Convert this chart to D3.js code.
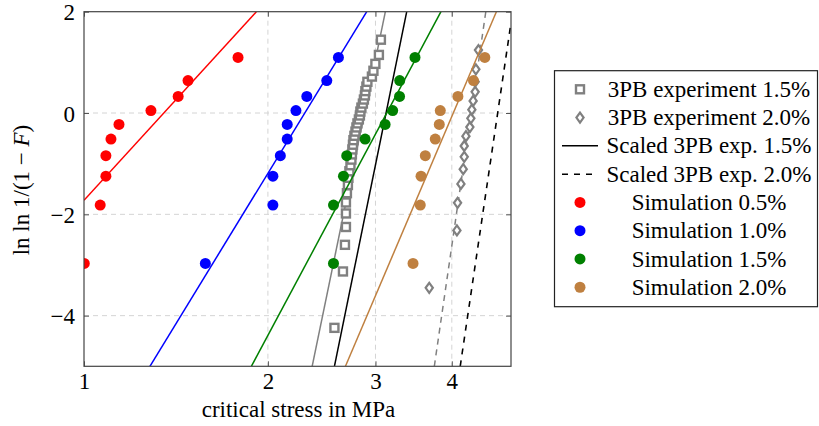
<!DOCTYPE html>
<html>
<head>
<meta charset="utf-8">
<script src="https://cdn.jsdelivr.net/npm/d3@7"></script>
<style>
  body { margin: 0; background: #fff; }
  text { font-family: "Liberation Serif", "DejaVu Serif", serif; fill: #000; }
</style>
</head>
<body>
<svg id="chart" width="819" height="426"></svg>
<script>
// ---------- data ----------
const xTicks = [1, 2, 3, 4];
const yTicks = [-4, -2, 0, 2];

// Weibull plot positions of the 10 simulation samples
const simY = [-2.970, -1.817, -1.246, -0.842, -0.514, -0.225, 0.049, 0.327, 0.640, 1.097];
const sim05X = [1.001, 1.063, 1.086, 1.086, 1.107, 1.141, 1.287, 1.426, 1.480, 1.787];
const sim10X = [1.580, 2.038, 2.038, 2.096, 2.151, 2.151, 2.223, 2.316, 2.497, 2.609];
const sim15X = [2.561, 2.561, 2.659, 2.692, 2.885, 3.111, 3.201, 3.285, 3.287, 3.482];
const sim20X = [3.456, 3.552, 3.562, 3.620, 3.758, 3.816, 3.830, 4.093, 4.341, 4.530];

// 3PB experiment 1.5% (35 samples)
const exp15Y = [-4.241, -3.128, -2.602, -2.250, -1.983, -1.766, -1.583, -1.422, -1.279, -1.150,
  -1.031, -0.920, -0.817, -0.719, -0.626, -0.536, -0.450, -0.367, -0.285, -0.205,
  -0.127, -0.049, 0.029, 0.107, 0.186, 0.266, 0.347, 0.432, 0.521, 0.616,
  0.719, 0.834, 0.970, 1.147, 1.447];
const exp15X = [2.570, 2.654, 2.674, 2.684, 2.684, 2.684, 2.694, 2.704, 2.709, 2.719,
  2.730, 2.740, 2.745, 2.750, 2.756, 2.761, 2.771, 2.782, 2.792, 2.803,
  2.818, 2.829, 2.834, 2.845, 2.861, 2.872, 2.883, 2.888, 2.899, 2.910,
  2.960, 2.977, 2.999, 3.039, 3.062];

// 3PB experiment 2.0% (16 samples)
const exp20Y = [-3.450, -2.318, -1.773, -1.399, -1.108, -0.865, -0.651, -0.458, -0.278, -0.105,
  0.066, 0.238, 0.419, 0.619, 0.862, 1.243];
const exp20X = [3.674, 4.078, 4.088, 4.140, 4.176, 4.192, 4.192, 4.219, 4.282, 4.298,
  4.314, 4.335, 4.368, 4.368, 4.380, 4.423];

// fitted lines: [x, y] end points
const fit05 = [[1.000, -1.723], [1.915, 2]];
const fit10 = [[1.282, -5], [2.903, 2]];
const fit15 = [[1.879, -5], [3.840, 2]];
const fit20 = [[2.679, -5], [4.732, 2]];
const expFit15 = [[2.363, -5], [3.114, 2]];
const expFit20 = [[3.745, -5], [4.547, 2]];
const scaled15 = [[2.570, -5], [3.375, 2]];
const scaled20 = [[4.129, -5], [5.000, 1.78]];

const legendLabels = ["3PB experiment 1.5%", "3PB experiment 2.0%", "Scaled 3PB exp. 1.5%",
  "Scaled 3PB exp. 2.0%", "Simulation 0.5%", "Simulation 1.0%", "Simulation 1.5%", "Simulation 2.0%"];

// ---------- drawing ----------
const svg = d3.select("#chart");
const L = 84, R = 511, T = 11.7, B = 366.3;
const x = d3.scaleLog().domain([1, 5]).range([L, R]);
const y = d3.scaleLinear().domain([-5, 2]).range([B, T]);
const FS = 23;
const gray = "#808080", brown = "#bf8040";

svg.append("defs").append("clipPath").attr("id", "clip")
  .append("rect").attr("x", L).attr("y", T).attr("width", R - L).attr("height", B - T);

// grid
const grid = svg.append("g");
grid.selectAll(".gx").data(xTicks.filter(d => d > 1)).join("line")
  .attr("x1", d => x(d)).attr("x2", d => x(d)).attr("y1", T).attr("y2", B)
  .attr("stroke", "#d4d4d4").attr("stroke-width", 1).attr("stroke-dasharray", "5,4");
grid.selectAll(".gy").data(yTicks.filter(d => d < 2)).join("line")
  .attr("y1", d => y(d)).attr("y2", d => y(d)).attr("x1", L).attr("x2", R)
  .attr("stroke", "#d4d4d4").attr("stroke-width", 1).attr("stroke-dasharray", "5,4");

// axes via d3 axis generators (ticks inside)
const fmt = d => (d < 0 ? "\u2212" + Math.abs(d) : String(d));
const xAxis = svg.append("g").attr("transform", `translate(0,${B})`)
  .call(d3.axisBottom(x).tickValues(xTicks).tickFormat(fmt).tickSizeInner(-5).tickSizeOuter(0).tickPadding(22));
const yAxis = svg.append("g").attr("transform", `translate(${L},0)`)
  .call(d3.axisLeft(y).tickValues(yTicks).tickFormat(fmt).tickSizeInner(-5).tickSizeOuter(0).tickPadding(14));
svg.append("g").attr("transform", `translate(0,${T})`)
  .call(d3.axisTop(x).tickValues(xTicks).tickFormat("").tickSizeInner(-5).tickSizeOuter(0));
svg.append("g").attr("transform", `translate(${R},0)`)
  .call(d3.axisRight(y).tickValues(yTicks).tickFormat("").tickSizeInner(-5).tickSizeOuter(0));
svg.selectAll(".domain").remove();
svg.selectAll(".tick line").attr("stroke", "#555").attr("stroke-width", 1);
svg.selectAll(".tick text").attr("font-family", "Liberation Serif").attr("font-size", FS).attr("fill", "#000");
xAxis.selectAll(".tick text").attr("dy", 0).attr("y", 389 - B);
yAxis.selectAll(".tick text").attr("dy", 0).attr("y", 8).attr("x", -9);

// plot content
const plot = svg.append("g").attr("clip-path", "url(#clip)");
const line = d3.line().x(d => x(d[0])).y(d => y(d[1]));
function drawLine(data, color, dash, w) {
  plot.append("path").datum(data).attr("d", line).attr("fill", "none")
    .attr("stroke", color).attr("stroke-width", w || 1.5)
    .attr("stroke-dasharray", dash || null);
}

// experiment fits
drawLine(expFit15, gray, null, 1.5);
drawLine(expFit20, gray, "6,5", 1.5);

// squares
const sq = 8;
plot.selectAll(".sq").data(exp15X.map((v, i) => [v, exp15Y[i]])).join("rect")
  .attr("x", d => x(d[0]) - sq / 2).attr("y", d => y(d[1]) - sq / 2)
  .attr("width", sq).attr("height", sq)
  .attr("fill", "#fff").attr("stroke", gray).attr("stroke-width", 2.4);

// diamonds
const diamond = (cx, cy) => `M${cx},${cy - 5}L${cx + 3.6},${cy}L${cx},${cy + 5}L${cx - 3.6},${cy}Z`;
plot.selectAll(".dm").data(exp20X.map((v, i) => [v, exp20Y[i]])).join("path")
  .attr("d", d => diamond(x(d[0]), y(d[1])))
  .attr("fill", "#fff").attr("stroke", gray).attr("stroke-width", 2.2);

// scaled
drawLine(scaled15, "#000", null, 1.5);
drawLine(scaled20, "#000", "6,6", 1.6);

// simulations
const sims = [[sim05X, fit05, "#ff0000"], [sim10X, fit10, "#0000ff"], [sim15X, fit15, "#008000"], [sim20X, fit20, brown]];
sims.forEach(([xs, fit, c]) => {
  drawLine(fit, c, null, 1.5);
  plot.append("g").selectAll("circle").data(xs.map((v, i) => [v, simY[i]])).join("circle")
    .attr("cx", d => x(d[0])).attr("cy", d => y(d[1])).attr("r", 5.5).attr("fill", c);
});

// frame
svg.append("rect").attr("x", L).attr("y", T).attr("width", R - L).attr("height", B - T)
  .attr("fill", "none").attr("stroke", "#444").attr("stroke-width", 1.2);

// axis labels
svg.append("text").attr("x", (L + R) / 2 + 1).attr("y", 417).attr("text-anchor", "middle")
  .attr("font-size", FS).text("critical stress in MPa");
const yl = svg.append("text").attr("transform", "translate(29,190) rotate(-90)")
  .attr("text-anchor", "middle").attr("font-size", FS);
yl.append("tspan").text("ln ln 1/(1 \u2212 ");
yl.append("tspan").attr("font-style", "italic").text("F");
yl.append("tspan").text(")");

// legend
const lg = svg.append("g");
lg.append("rect").attr("x", 554.5).attr("y", 70.7).attr("width", 263).attr("height", 236)
  .attr("fill", "#fff").attr("stroke", "#222").attr("stroke-width", 1.2);
const rowY = i => 89.3 + i * 28.28;
legendLabels.forEach((t, i) => {
  lg.append("text").attr("x", 709).attr("y", rowY(i) + 7.6).attr("text-anchor", "middle")
    .attr("font-size", FS).text(t);
});
const mx = 580;
lg.append("rect").attr("x", mx - 4).attr("y", rowY(0) - 4).attr("width", 8).attr("height", 8)
  .attr("fill", "#fff").attr("stroke", gray).attr("stroke-width", 2.4);
lg.append("path").attr("d", diamond(mx, rowY(1))).attr("fill", "#fff").attr("stroke", gray).attr("stroke-width", 2.2);
lg.append("line").attr("x1", 562).attr("x2", 598).attr("y1", rowY(2)).attr("y2", rowY(2))
  .attr("stroke", "#000").attr("stroke-width", 1.5);
lg.append("line").attr("x1", 562).attr("x2", 598).attr("y1", rowY(3)).attr("y2", rowY(3))
  .attr("stroke", "#000").attr("stroke-width", 1.5).attr("stroke-dasharray", "6,6");
sims.forEach(([, , c], i) => {
  lg.append("circle").attr("cx", mx).attr("cy", rowY(4 + i)).attr("r", 5.5).attr("fill", c);
});
</script>
</body>
</html>
